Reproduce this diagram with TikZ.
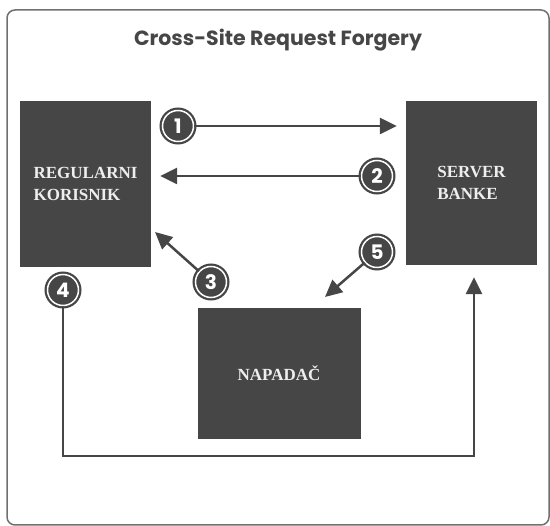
\documentclass[tikz,border=0pt]{standalone}
\usepackage{fontspec}
\setmainfont{Liberation Serif}
\newfontfamily\titlefont{Poppins}
\usepackage{xcolor}
\usetikzlibrary{arrows.meta,positioning,calc}

\definecolor{dark}{HTML}{464646}
\definecolor{framegray}{HTML}{707070}
\definecolor{boxtext}{HTML}{EEEEEE}

\tikzset{
  box/.style={rectangle,fill=dark,draw=none,text=boxtext,align=left,
    font=\fontsize{17}{22}\selectfont\bfseries,inner sep=0pt},
  num/.style={circle,fill=dark,draw=white,line width=1.5pt,minimum size=31pt,
    inner sep=0pt,text=white,font=\titlefont\fontsize{20}{20}\selectfont\bfseries,
    preaction={draw=dark,line width=6pt}},
  conn/.style={draw=dark,line width=2.5pt,-{Triangle[length=17pt,width=16pt]}},
}

\begin{document}
\begin{tikzpicture}[x=1pt,y=-1pt]
\useasboundingbox (0,0) rectangle (550,526);
\draw[framegray,line width=1.5pt,rounded corners=8pt] (7,10) rectangle (549,525);
\node[text=dark,font=\titlefont\fontsize{20.5}{22}\selectfont\bfseries] (title) at (278,40) {Cross-Site Request Forgery};

% the three parties
\node[box,minimum width=131pt,minimum height=166pt] (user) at (85.5,184) {REGULARNI\\KORISNIK};
\node[box,minimum width=131pt,minimum height=164pt] (server) at (471.5,183) {SERVER\\BANKE};
\node[box,minimum width=163pt,minimum height=131pt] (attacker) at (279,373.5) {NAPADAČ};

% numbered steps
\foreach \n/\x/\y in {1/178/126,2/377/176,3/211/282,4/63/290,5/377/252}
  \node[num] (n\n) at (\x,\y) {\n};

\coordinate (c3) at (155,232);
\coordinate (c5) at (325,297);
\coordinate (c4) at (474,456);

\draw[conn,shorten >=9pt] (n1) -- (n1 -| server.west);
\draw[conn,shorten >=9pt] (n2) -- (n2 -| user.east);
\draw[conn] (n3) -- (c3);
\draw[conn] (n5) -- (c5);
\draw[conn,shorten >=12pt] (n4) |- (c4) -- (c4 |- server.south);
\end{tikzpicture}
\end{document}
